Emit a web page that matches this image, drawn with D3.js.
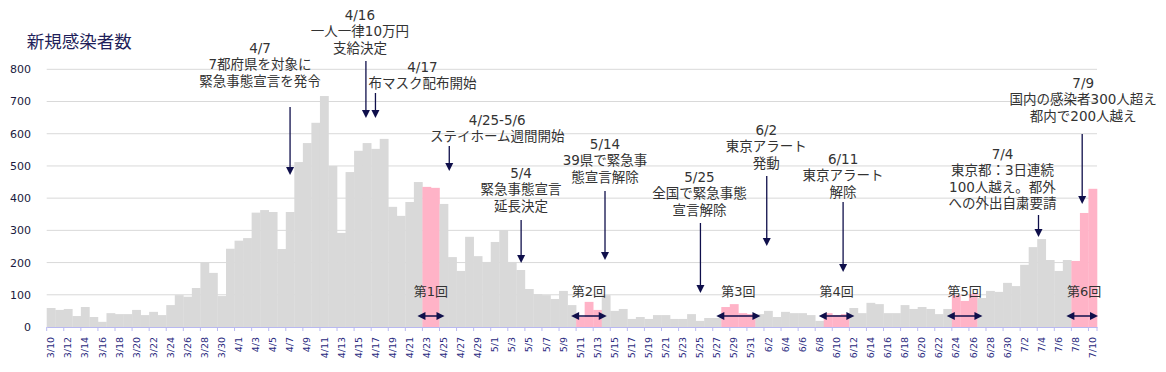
<!DOCTYPE html>
<html>
<head>
<meta charset="utf-8">
<script src="https://cdn.jsdelivr.net/npm/d3@7"></script>
<style>
  body { margin: 0; background: #fff; }
  svg { display: block; font-family: "DejaVu Sans", "Noto Sans CJK JP", sans-serif; }
</style>
</head>
<body>
<div id="chart"></div>
<script>
// daily new cases, 3/10 - 7/10
const startDate = new Date(2020, 2, 10);
const endDate = new Date(2020, 6, 11);
const days = d3.timeDay.range(startDate, endDate).map(d => `${d.getMonth() + 1}/${d.getDate()}`);

const cases = [
  // 3/10 - 3/31
  59, 53, 56, 34, 62, 31, 16, 43, 40, 40, 53, 37, 47, 37, 68, 99, 94, 121, 201, 168, 96, 243,
  // April
  268, 276, 355, 363, 357, 242, 357, 512, 571, 634, 717, 500, 292, 481, 547, 571, 553, 584, 373, 345,
  388, 450, 435, 432, 382, 217, 174, 280, 220, 202,
  // May
  264, 301, 202, 177, 118, 102, 99, 87, 112, 68, 31, 78, 53, 99, 50, 56, 25, 31, 25, 37,
  37, 25, 25, 40, 19, 28, 28, 62, 71, 43, 40,
  // June
  40, 50, 31, 47, 43, 43, 37, 19, 43, 37, 40, 59, 43, 75, 71, 43, 43, 68, 56, 62,
  56, 40, 56, 99, 81, 102, 90, 112, 109, 137,
  // July
  127, 193, 248, 273, 208, 174, 208, 205, 354, 429
];

const yTicks = [0, 100, 200, 300, 400, 500, 600, 700, 800];

const rounds = [
  { label: "第1回", start: "4/23", end: "4/24" },
  { label: "第2回", start: "5/11", end: "5/13" },
  { label: "第3回", start: "5/28", end: "5/31" },
  { label: "第4回", start: "6/9", end: "6/11" },
  { label: "第5回", start: "6/24", end: "6/26" },
  { label: "第6回", start: "7/8", end: "7/10" }
];

const events = [
  { date: "4/7", lines: ["4/7", "7都府県を対象に", "緊急事態宣言を発令"] },
  { date: "4/16", lines: ["4/16", "一人一律10万円", "支給決定"] },
  { date: "4/17", lines: ["4/17", "布マスク配布開始"] },
  { date: "4/25", lines: ["4/25-5/6", "ステイホーム週間開始"] },
  { date: "5/4", lines: ["5/4", "緊急事態宣言", "延長決定"] },
  { date: "5/14", lines: ["5/14", "39県で緊急事", "態宣言解除"] },
  { date: "5/25", lines: ["5/25", "全国で緊急事態", "宣言解除"] },
  { date: "6/2", lines: ["6/2", "東京アラート", "発動"] },
  { date: "6/11", lines: ["6/11", "東京アラート", "解除"] },
  { date: "7/4", lines: ["7/4", "東京都：3日連続", "100人越え。都外", "への外出自粛要請"] },
  { date: "7/9", lines: ["7/9", "国内の感染者300人超え", "都内で200人越え"] }
];

// annotation layout: arrow x shift, text x shift, first line y, arrow top / tip
const eventLayout = {
  "4/7":  { adx: 0,    tdx: -30,  ty: 48,  a1: 107, a2: 175 },
  "4/16": { adx: -1,   tdx: -7,   ty: 15,  a1: 61,  a2: 118 },
  "4/17": { adx: 0,    tdx: 47,   ty: 67,  a1: 93,  a2: 118 },
  "4/25": { adx: 5.5,  tdx: 53.5, ty: 120, a1: 146, a2: 171 },
  "5/4":  { adx: 0.5,  tdx: 0.5,  ty: 173, a1: 220, a2: 263 },
  "5/14": { adx: -1,   tdx: -1,   ty: 144, a1: 191, a2: 260 },
  "5/25": { adx: 0.5,  tdx: -0.5, ty: 177, a1: 223, a2: 293 },
  "6/2":  { adx: -1.5, tdx: -2,   ty: 130, a1: 176, a2: 246 },
  "6/11": { adx: -2,   tdx: -2,   ty: 159, a1: 202, a2: 272 },
  "7/4":  { adx: -3,   tdx: -39,  ty: 154, a1: 215, a2: 237 },
  "7/9":  { adx: -2,   tdx: -1,   ty: 83,  a1: 134, a2: 204 }
};

const W = 1166, H = 372;
const plot = { left: 46.7, right: 1097, top: 69.3, bottom: 327 };
const navy = "#0f0f4b";

const svg = d3.select("#chart").append("svg")
  .attr("width", W)
  .attr("height", H);

const x = d3.scaleBand()
  .domain(days)
  .range([plot.left, plot.right])
  .padding(0);

const y = d3.scaleLinear()
  .domain([0, 800])
  .range([plot.bottom, plot.top]);

const pinkDays = new Set();
rounds.forEach(r => {
  const i0 = days.indexOf(r.start), i1 = days.indexOf(r.end);
  for (let i = i0; i <= i1; i++) pinkDays.add(days[i]);
});

// gridlines
svg.append("g")
  .selectAll("line")
  .data(yTicks.filter(d => d > 0))
  .enter()
  .append("line")
  .attr("x1", plot.left)
  .attr("x2", plot.right)
  .attr("y1", d => y(d))
  .attr("y2", d => y(d))
  .attr("stroke", "#d9d9d9")
  .attr("stroke-width", 1);

// y labels
svg.append("g")
  .selectAll("text")
  .data(yTicks)
  .enter()
  .append("text")
  .attr("x", 31)
  .attr("y", d => y(d))
  .attr("dy", "0.36em")
  .attr("text-anchor", "end")
  .attr("font-size", "11px")
  .attr("fill", "#1a1a40")
  .text(d => d);

// bars
svg.append("g")
  .selectAll("rect")
  .data(cases)
  .enter()
  .append("rect")
  .attr("x", (d, i) => x(days[i]))
  .attr("width", x.bandwidth() + 0.3)
  .attr("y", d => y(d))
  .attr("height", d => y(0) - y(d))
  .attr("fill", (d, i) => pinkDays.has(days[i]) ? "#ffb3c7" : "#d9d9d9");

// x axis
const xAxis = d3.axisBottom(x)
  .tickValues(days.filter((d, i) => i % 2 === 0))
  .tickSize(0)
  .tickPadding(0);

const gx = svg.append("g")
  .attr("transform", `translate(0,${plot.bottom})`)
  .call(xAxis);

gx.select(".domain").attr("stroke", "#b8b8f0");
gx.selectAll(".tick text")
  .attr("transform", "translate(0,10) rotate(-90)")
  .attr("text-anchor", "end")
  .attr("dy", "0.35em")
  .attr("x", 0)
  .attr("y", 0)
  .attr("font-size", "9.5px")
  .attr("font-family", "DejaVu Sans")
  .attr("fill", "#2a2a80");

// tick marks at category boundaries
gx.append("g")
  .selectAll("line")
  .data(days.filter((d, i) => i % 2 === 0).concat(["end"]))
  .enter()
  .append("line")
  .attr("x1", d => d === "end" ? plot.right : x(d))
  .attr("x2", d => d === "end" ? plot.right : x(d))
  .attr("y1", 0)
  .attr("y2", 4)
  .attr("stroke", "#b8b8f0");

// arrowhead helpers
function downHead(g, cx, tipY) {
  g.append("path")
    .attr("d", `M${cx - 4},${tipY - 8} L${cx + 4},${tipY - 8} L${cx},${tipY} Z`)
    .attr("fill", navy);
}
function sideHead(g, tipX, cy, dir) {
  g.append("path")
    .attr("d", `M${tipX - dir * 8},${cy - 4} L${tipX - dir * 8},${cy + 4} L${tipX},${cy} Z`)
    .attr("fill", navy);
}

// round labels and double arrows
const roundG = svg.append("g");
rounds.forEach(r => {
  const x0 = x(r.start), x1 = x(r.end) + x.bandwidth();
  const cx = (x0 + x1) / 2;
  roundG.append("text")
    .attr("x", cx)
    .attr("y", 296)
    .attr("text-anchor", "middle")
    .attr("font-size", "13px")
    .attr("fill", "#333")
    .text(r.label);
  const ax0 = x0 - 5, ax1 = Math.min(x1 + 5, plot.right + 1);
  roundG.append("line")
    .attr("x1", ax0 + 4).attr("x2", ax1 - 4)
    .attr("y1", 316).attr("y2", 316)
    .attr("stroke", navy)
    .attr("stroke-width", 1.5);
  sideHead(roundG, ax0, 316, -1);
  sideHead(roundG, ax1, 316, 1);
});

// event annotations
const evG = svg.append("g");
events.forEach(e => {
  const L = eventLayout[e.date];
  const cx = x(e.date) + x.bandwidth() / 2;
  const ax = cx + L.adx;
  const tx = cx + L.tdx;
  const t = evG.append("text")
    .attr("text-anchor", "middle")
    .attr("font-size", "13.5px")
    .attr("fill", "#333");
  e.lines.forEach((line, i) => {
    t.append("tspan")
      .attr("x", tx)
      .attr("y", L.ty + 5 + i * 16.4)
      .text(line);
  });
  evG.append("line")
    .attr("x1", ax).attr("x2", ax)
    .attr("y1", L.a1).attr("y2", L.a2 - 6)
    .attr("stroke", navy)
    .attr("stroke-width", 1.3);
  downHead(evG, ax, L.a2);
});

// title
svg.append("text")
  .attr("x", 26.7)
  .attr("y", 47.5)
  .attr("font-size", "17.5px")
  .attr("fill", "#1f1f5a")
  .text("新規感染者数");
</script>
</body>
</html>
